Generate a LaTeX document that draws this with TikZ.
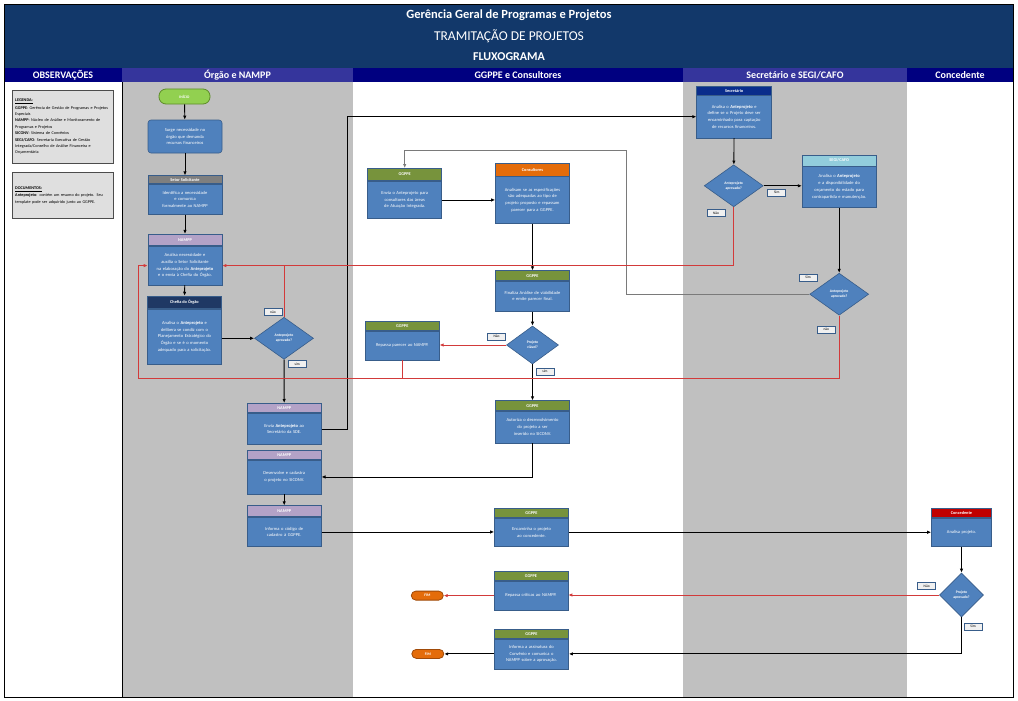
\documentclass[tikz,border=0pt]{standalone}
\usepackage{fontspec}
\setmainfont{Carlito}
\usetikzlibrary{arrows.meta,positioning,shapes.geometric}
\hyphenpenalty=10000
\exhyphenpenalty=10000

\definecolor{titleblue}{HTML}{12386A}
\definecolor{lanenavy}{HTML}{000080}
\definecolor{lanepurple}{HTML}{35359C}
\definecolor{lanegray}{HTML}{C0C0C0}
\definecolor{boxblue}{HTML}{4F81BD}
\definecolor{boxedge}{HTML}{385D8A}
\definecolor{hdgreen}{HTML}{77933C}
\definecolor{hdorange}{HTML}{E46C0A}
\definecolor{hdpurple}{HTML}{B3A2C7}
\definecolor{hdgray}{HTML}{7F7F7F}
\definecolor{hdnavy}{HTML}{1F3864}
\definecolor{hdsec}{HTML}{0A2D8C}
\definecolor{hdcyan}{HTML}{92CDDC}
\definecolor{hdred}{HTML}{C00000}
\definecolor{startgreen}{HTML}{92D050}
\definecolor{startedge}{HTML}{5E8C2A}
\definecolor{endorange}{HTML}{E46C0A}
\definecolor{endedge}{HTML}{A04A08}
\definecolor{flowred}{HTML}{D23A3A}
\definecolor{flowgray}{HTML}{7A7A7A}

\newcommand\boxtext{\fontsize{4.5}{6.8}\selectfont}
\newcommand\boxhead{\fontsize{4.3}{5}\selectfont\bfseries}
\newcommand\obstext{\fontsize{4.2}{6.4}\selectfont}

\tikzset{
  taskhead/.style={draw=boxedge, line width=0.6pt, minimum width=74pt, inner sep=0pt,
    font=\boxhead, text=white},
  taskbox/.style={draw=boxedge, fill=boxblue, line width=0.6pt, minimum width=74pt,
    text width=60pt, inner sep=3pt, align=center, font=\boxtext, text=white},
  decision/.style={diamond, draw=boxedge, fill=boxblue, line width=0.6pt, inner sep=0pt,
    align=center, font=\fontsize{3.7}{4.7}\selectfont\bfseries, text=white},
  terminal/.style={rounded corners=4.5pt, line width=0.8pt, minimum width=32pt,
    minimum height=9pt, inner sep=0pt, font=\fontsize{3.8}{4}\selectfont\bfseries, text=white},
  answer/.style={draw=boxedge, fill=gray!12, line width=0.5pt, minimum width=18pt,
    minimum height=7pt, inner sep=0pt, font=\fontsize{3.6}{4}\selectfont},
  lanehead/.style={minimum height=14pt, inner sep=0pt, text=white,
    font=\fontsize{10}{10}\selectfont\bfseries},
  obsbox/.style={draw=gray!60!black, fill=gray!25, line width=0.5pt, minimum width=101pt,
    text width=95pt, inner sep=3pt, align=left, font=\obstext},
  flow/.style={-{Latex[length=4pt,width=3.4pt]}, line width=0.9pt},
  back/.style={flow, draw=flowred},
  backline/.style={line width=0.9pt, draw=flowred},
}

\begin{document}
\begin{tikzpicture}[x=1pt, y=-1pt]
  \useasboundingbox (0,0) rectangle (1018,701);
  \fill[white] (0,0) rectangle (1018,701);

  % title band and lanes
  \fill[titleblue] (4,4) rectangle (1013,68);
  \node[text=white, font=\fontsize{12.5}{13}\selectfont\bfseries] (title1) at (509,15) {Gerência Geral de Programas e Projetos};
  \node[text=white, font=\fontsize{13.5}{14}\selectfont] (title2) at (509,36) {TRAMITAÇÃO DE PROJETOS};
  \node[text=white, font=\fontsize{12}{13}\selectfont\bfseries] (title3) at (509,57) {FLUXOGRAMA};

  \fill[lanegray] (122,82) rectangle (353,697);
  \fill[lanegray] (683,82) rectangle (907,697);
  \node[lanehead, fill=lanenavy,   minimum width=118pt] (laneobs) at (63,75)    {OBSERVAÇÕES};
  \node[lanehead, fill=lanepurple, minimum width=231pt] (laneorg) at (237.5,75) {Órgão e NAMPP};
  \node[lanehead, fill=lanenavy,   minimum width=330pt] (laneggp) at (518,75)   {GGPPE e Consultores};
  \node[lanehead, fill=lanepurple, minimum width=224pt] (lanesec) at (795,75)   {Secretário e SEGI/CAFO};
  \node[lanehead, fill=lanenavy,   minimum width=106pt] (lanecon) at (960,75)   {Concedente};
  \draw[line width=0.8pt] (122,82) -- (122,697);
  \draw[line width=0.8pt] (4,4) rectangle (1013,697);

  % observations
  \node[obsbox, anchor=north west, minimum height=73pt] (legenda) at (12,90)
    {\underline{\textbf{LEGENDA:}}\\[1pt]
     \textbf{GGPPE}: Gerência de Gestão de Programas e Projetos Especiais\\
     \textbf{NAMPP}: Núcleo de Análise e Monitoramento de Programas e Projetos\\
     \textbf{SICONV}: Sistema de Convênios\\
     \textbf{SEGI/CAFO}: Secretaria Executiva de Gestão Integrada/Conselho de Análise Financeira e Orçamentária};
  \node[obsbox, anchor=north west, minimum height=46pt] (documentos) at (12,172)
    {\underline{\textbf{DOCUMENTOS:}}\\[1pt]
     \textbf{Anteprojeto}: contém um resumo do projeto. Seu template pode ser adquirido junto ao GGPPE.};

  % Orgao e NAMPP
  \node[terminal, fill=startgreen, draw=startedge, minimum width=51pt, minimum height=15pt,
    rounded corners=7pt] (inicio) at (184.5,96.5) {INÍCIO};
  \node[taskbox, rounded corners=3pt, minimum height=33pt] (surge) at (185,136.5)
    {Surge necessidade no órgão que demanda recursos financeiros};
  \node[taskhead, fill=hdgray, minimum height=8pt] (setorh) at (185,179.7) {Setor Solicitante};
  \node[taskbox, below=0pt of setorh, minimum height=30pt] (setor)
    {Identifica a necessidade e comunica formalmente ao NAMPP};
  \node[taskhead, fill=hdpurple, minimum height=11.5pt] (nampph1) at (185,240) {NAMPP};
  \node[taskbox, below=0pt of nampph1, minimum height=38.5pt] (nampp1)
    {Analisa necessidade e auxilia o Setor Solicitante na elaboração do \textbf{Anteprojeto} e o envia à Chefia do Órgão.};
  \node[taskhead, fill=hdnavy, minimum height=12.3pt] (chefiah) at (184.5,302.2) {Chefia do Órgão};
  \node[taskbox, below=0pt of chefiah, minimum height=55.5pt] (chefia)
    {Analisa o \textbf{Anteprojeto} e delibera se condiz com o Planejamento Estratégico do Órgão e se é o momento adequado para a solicitação.};
  \node[decision, minimum width=59pt, minimum height=42pt] (dec1) at (284,338.3) {Anteprojeto\\aprovado?};
  \node[taskhead, fill=hdpurple, minimum height=9.4pt] (nampph2) at (284.2,408) {NAMPP};
  \node[taskbox, below=0pt of nampph2, minimum height=31.3pt] (nampp2)
    {Envia \textbf{Anteprojeto} ao Secretário da SDE.};
  \node[taskhead, fill=hdpurple, minimum height=9.3pt] (nampph3) at (284.2,454.7) {NAMPP};
  \node[taskbox, below=0pt of nampph3, minimum height=34pt] (nampp3)
    {Desenvolve e cadastra o projeto no SICONV.};
  \node[taskhead, fill=hdpurple, minimum height=11pt] (nampph4) at (284.2,511.2) {NAMPP};
  \node[taskbox, below=0pt of nampph4, minimum height=29.3pt] (nampp4)
    {Informa o código de cadastro à GGPPE.};
  \node[answer] (nao1) at (273,312.2) {não};
  \node[answer] (sim1) at (297.3,364) {sim};

  % GGPPE e Consultores
  \node[taskhead, fill=hdgreen, minimum height=12.4pt] (ggenvh) at (404.7,174.5) {GGPPE};
  \node[taskbox, below=0pt of ggenvh, minimum height=37.3pt] (ggenv)
    {Envia o Anteprojeto para consultores das áreas de Atuação Integrada.};
  \node[taskhead, fill=hdorange, minimum height=12.7pt] (consulth) at (532.5,169.7) {Consultores};
  \node[taskbox, below=0pt of consulth, minimum height=46.7pt] (consult)
    {Analisam se as especificações são adequadas ao tipo de projeto proposto e repassam parecer para a GGPPE.};
  \node[taskhead, fill=hdgreen, minimum height=10pt] (finalh) at (532.5,275.7) {GGPPE};
  \node[taskbox, below=0pt of finalh, minimum height=30pt] (final)
    {Finaliza Análise de viabilidade e emite parecer final.};
  \node[decision, minimum width=52pt, minimum height=38pt] (dviav) at (532.5,345) {Projeto\\viável?};
  \node[taskhead, fill=hdgreen, minimum height=9pt] (repassah) at (402.3,326.2) {GGPPE};
  \node[taskbox, below=0pt of repassah, minimum height=28.6pt] (repassa)
    {Repassa parecer ao NAMPP.};
  \node[taskhead, fill=hdgreen, minimum height=10pt] (autorh) at (532.5,405.7) {GGPPE};
  \node[taskbox, below=0pt of autorh, minimum height=31.6pt] (autor)
    {Autoriza o desenvolvimento do projeto a ser inserido no SICONV.};
  \node[taskhead, fill=hdgreen, minimum height=9pt] (encamh) at (531.5,512.8) {GGPPE};
  \node[taskbox, below=0pt of encamh, minimum height=28.7pt] (encam)
    {Encaminha o projeto ao concedente.};
  \node[taskhead, fill=hdgreen, minimum height=9pt] (criticash) at (531,576.2) {GGPPE};
  \node[taskbox, below=0pt of criticash, minimum height=28.6pt] (criticas)
    {Repassa críticas ao NAMPP.};
  \node[taskhead, fill=hdgreen, minimum height=9pt] (assinh) at (531.5,633.8) {GGPPE};
  \node[taskbox, below=0pt of assinh, minimum height=30pt] (assin)
    {Informa a assinatura do Convênio e comunica o NAMPP sobre a aprovação.};
  \node[terminal, fill=endorange, draw=endedge, left=50pt of criticas] (fim1) {FIM};
  \node[terminal, fill=endorange, draw=endedge, left=50pt of assin] (fim2) {FIM};
  \node[answer] (nao2) at (496.5,336.3) {Não};
  \node[answer] (sim2) at (545,371.5) {sim};

  % Secretario e SEGI/CAFO
  \node[taskhead, fill=hdsec, minimum height=8.3pt, minimum width=75pt] (secrh) at (734.2,90.8) {Secretário};
  \node[taskbox, below=0pt of secrh, minimum height=42.3pt, minimum width=75pt] (secr)
    {Analisa o \textbf{Anteprojeto} e define se o Projeto deve ser encaminhado para captação de recursos financeiros.};
  \node[decision, minimum width=59pt, minimum height=42pt] (dsec1) at (733.7,185.8) {Anteprojeto\\aprovado?};
  \node[taskhead, fill=hdcyan, minimum height=11pt] (segih) at (839.2,160.5) {SEGI/CAFO};
  \node[taskbox, below=0pt of segih, minimum height=40.7pt] (segi)
    {Analisa o \textbf{Anteprojeto} e a disponibilidade do orçamento do estado para contrapartida e manutenção.};
  \node[decision, minimum width=59pt, minimum height=42pt] (dsec2) at (839.2,294.2) {Anteprojeto\\aprovado?};
  \node[answer] (sim3) at (776.7,192.7) {Sim};
  \node[answer] (nao3) at (716,213) {Não};
  \node[answer] (sim4) at (808,277.3) {Sim};
  \node[answer] (nao4) at (826.3,329.3) {não};

  % Concedente
  \node[taskhead, fill=hdred, minimum height=9pt, minimum width=60pt] (concedh) at (961.5,512.8) {Concedente};
  \node[taskbox, below=0pt of concedh, minimum height=28.7pt, minimum width=60pt, text width=54pt] (conced)
    {Analisa projeto.};
  \node[decision, minimum width=44pt, minimum height=44pt] (dconc) at (961.5,595) {Projeto\\aprovado?};
  \node[answer] (nao5) at (926.7,586) {Não};
  \node[answer] (sim5) at (973,626.3) {Sim};

  % connectors
  \coordinate (loopbl)  at (138,378.5);
  \coordinate (simturn) at (626,150.5);
  \draw[flow] (inicio) -- (surge);
  \draw[flow] (surge) -- (setorh);
  \draw[flow] (setor) -- (nampph1);
  \draw[flow] (nampp1) -- (chefiah);
  \draw[flow] (dec1.west -| chefia.east) -- (dec1.west);
  \draw[flow] (dec1) -- (nampph2);
  \draw[flow] (nampp2.east) -- ++(26,0) |- (secr.west);
  \draw[flow] (nampp3) -- (nampph4);
  \draw[flow] (nampp4.east) -- (encam.west |- nampp4.east);
  \draw[flow] (ggenv.east) -- (consult.west |- ggenv.east);
  \draw[flow] (consult) -- (finalh);
  \draw[flow] (final) -- (dviav);
  \draw[flow] (dviav) -- (autorh);
  \draw[flow] (autor.south) |- (nampp3.east);
  \draw[flow] (encam.east) -- (conced.west |- encam.east);
  \draw[flow] (secr) -- (dsec1);
  \draw[flow] (dsec1.east) -- (segi.west |- dsec1.east);
  \draw[flow] (segi) -- (dsec2);
  \draw[flow, draw=flowgray] (dsec2.west) -| (simturn) -| (ggenvh.north);
  \draw[flow] (conced) -- (dconc);
  \draw[flow] (dconc.south) |- (assin.east);
  \draw[flow] (assin) -- (fim2);
  \draw[back] (dsec1.south) |- (nampp1.east);
  \draw[backline] (dec1.north) -- (dec1.north |- nampp1.east);
  \draw[back] (dsec2.south) |- (loopbl) |- (nampp1.west);
  \draw[backline] (repassa.south) -- (repassa.south |- loopbl);
  \draw[back] (dviav.west) -- (repassa.east |- dviav.west);
  \draw[back] (dconc.west) -- (criticas.east |- dconc.west);
  \draw[back] (criticas) -- (fim1);
\end{tikzpicture}
\end{document}
